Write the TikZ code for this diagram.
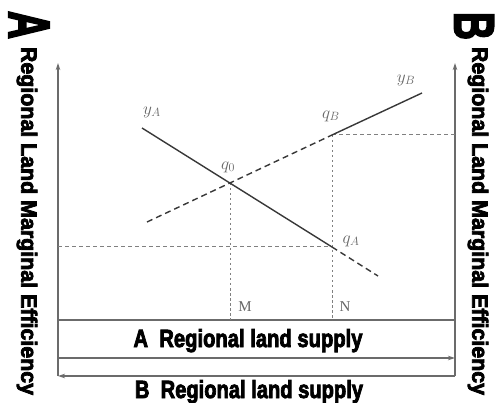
\documentclass[tikz,border=0pt]{standalone}
\usepackage{fontspec}
\usepackage{graphicx}
\newfontfamily\heavyfont{Liberation Sans}[FakeBold=3.5]
\newfontfamily\labelfont{Liberation Serif}
\usetikzlibrary{arrows.meta}
\definecolor{axisgray}{gray}{0.42}
\definecolor{curvegray}{gray}{0.22}
\definecolor{dashgray}{gray}{0.5}
\definecolor{labelgray}{gray}{0.4}
% heavy condensed caption: width, height, text
\newcommand{\heavytext}[3]{\resizebox{#1pt}{#2pt}{\heavyfont\bfseries #3}}
% same, turned to read downwards
\newcommand{\heavydown}[3]{\rotatebox{-90}{\heavytext{#1}{#2}{#3}}}

\begin{document}
\begin{tikzpicture}[
    x=1pt, y=-1pt,
    >={Stealth[length=7pt, width=4.5pt]},
    axis/.style={draw=axisgray, line width=1.2pt},
    curve/.style={draw=curvegray, line width=1.4pt},
    guide/.style={draw=dashgray, line width=1pt, dash pattern=on 4pt off 3pt},
    drop/.style={draw=dashgray, line width=1pt, dash pattern=on 2.5pt off 2.5pt},
    lbl/.style={text=labelgray, inner sep=0pt, font=\fontsize{18}{18}\selectfont},
    heavy/.style={inner sep=0pt, text=black}
]
    \useasboundingbox (0,0) rectangle (495,403);

    % 坐标轴端点
    \coordinate (LB) at (58,376);   % 左轴底
    \coordinate (LT) at (58,63);    % 左轴顶
    \coordinate (RB) at (455,376);  % 右轴底
    \coordinate (RT) at (455,63);   % 右轴顶
    \coordinate (SL) at (58,320);   % 供给线左
    \coordinate (SR) at (455,320);  % 供给线右
    \coordinate (AL) at (58,358);
    \coordinate (AR) at (455,358);

    % 曲线上的点
    \coordinate (yA0) at (142,128);
    \coordinate (qA)  at (332,247);
    \coordinate (yA1) at (378,276);
    \coordinate (yB0) at (147,222);
    \coordinate (qB)  at (332,135);
    \coordinate (yB1) at (422,93);
    \coordinate (q0)  at (230,183);
    \coordinate (M)   at (230,320);
    \coordinate (N)   at (332,320);
    \coordinate (hA)  at (58,247);
    \coordinate (hB)  at (455,135);

    % --- 坐标轴 ---
    \draw[axis, ->] (LB) -- (LT);
    \draw[axis, ->] (RB) -- (RT);
    \draw[axis] (SL) -- (SR);
    \draw[axis, ->] (AL) -- (AR);
    \draw[axis, ->] (RB) -- (LB);

    % --- 辅助虚线 ---
    \draw[guide] (hA) -- (qA);
    \draw[guide] (qB) -- (hB);
    \draw[drop] (q0) -- (M);
    \draw[drop] (qB) -- (N);

    % --- 两条效率曲线 ---
    \draw[curve] (yA0) -- (qA);
    \draw[curve, dash pattern=on 6pt off 4pt] (qA) -- (yA1);
    \draw[curve, dash pattern=on 6pt off 4pt] (yB0) -- (qB);
    \draw[curve] (qB) -- (yB1);

    % --- 标签 ---
    \node[lbl] (lyA) at (152,112) {$y_A$};
    \node[lbl] (lq0) at (228,167) {$q_0$};
    \node[lbl] (lqB) at (331,116) {$q_B$};
    \node[lbl] (lyB) at (406,80)  {$y_B$};
    \node[lbl] (lqA) at (351,241) {$q_A$};
    \node[lbl, font=\labelfont\fontsize{15}{15}\selectfont] (lM) at (245,307) {M};
    \node[lbl, font=\labelfont\fontsize{15}{15}\selectfont] (lN) at (345,307) {N};

    % --- 粗体说明文字 ---
    \node[heavy, anchor=base] (supA) at (248,347) {\heavytext{229}{18}{A\ \ Regional land supply}};
    \node[heavy, anchor=base] (supB) at (249,398) {\heavytext{228}{18}{B\ \ Regional land supply}};
    \node[heavy] (capA) at (29,25) {\heavydown{28}{40}{A}};
    \node[heavy] (capB) at (474,26) {\heavydown{28}{39}{B}};
    \node[heavy] (effA) at (27,221) {\heavydown{348}{16}{Regional Land Marginal Efficiency}};
    \node[heavy] (effB) at (478,221) {\heavydown{348}{16}{Regional Land Marginal Efficiency}};

\end{tikzpicture}
\end{document}
